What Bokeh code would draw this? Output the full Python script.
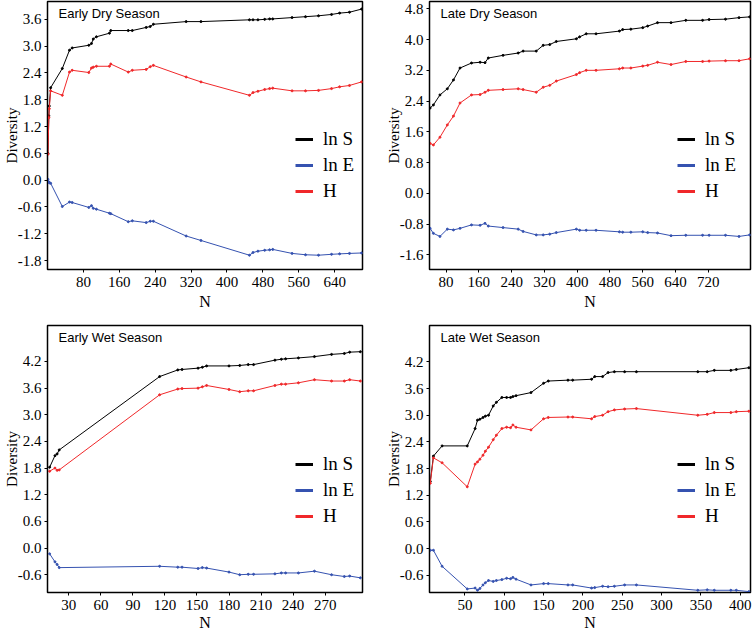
from bokeh.plotting import figure
from bokeh.layouts import column, row
from bokeh.models import (Range1d, FixedTicker, NumeralTickFormatter, Label,
                          Legend, LegendItem)
from bokeh.embed import file_html
from bokeh.resources import INLINE

# ---------------- data ----------------
# Early Dry Season
EDS_N = [1, 3, 4, 7, 33, 49, 55, 92, 98, 102, 109, 138, 141, 180, 189, 220, 229, 236,
         309, 342, 450, 458, 469, 484, 495, 502, 545, 575, 604, 633, 651, 673, 700]
EDS_LNS = [0.60, 1.44, 1.66, 2.07, 2.50, 2.91, 2.96, 3.02, 3.06, 3.16, 3.21, 3.29, 3.35,
           3.35, 3.35, 3.42, 3.44, 3.49, 3.55, 3.55, 3.59, 3.59, 3.59, 3.60, 3.61, 3.61,
           3.64, 3.66, 3.68, 3.71, 3.74, 3.76, 3.83]
EDS_H = [0.58, 1.40, 1.60, 2.00, 1.90, 2.42, 2.46, 2.41, 2.51, 2.53, 2.55, 2.55, 2.60,
         2.42, 2.46, 2.48, 2.54, 2.57, 2.31, 2.20, 1.90, 1.96, 1.99, 2.03, 2.05, 2.06,
         2.00, 2.00, 2.01, 2.05, 2.09, 2.12, 2.20]
EDS_LNE = [0.02, -0.04, -0.06, -0.07, -0.59, -0.49, -0.50, -0.61, -0.57, -0.63, -0.65,
           -0.74, -0.75, -0.93, -0.91, -0.95, -0.92, -0.92, -1.25, -1.35, -1.68, -1.62,
           -1.59, -1.57, -1.56, -1.55, -1.64, -1.67, -1.68, -1.66, -1.65, -1.64, -1.63]

# Late Dry Season
LDS_N = [41, 49, 65, 83, 98, 114, 142, 163, 175, 183, 219, 256, 268, 300, 317, 333, 349,
         398, 406, 422, 446, 503, 511, 531, 560, 572, 596, 629, 665, 706, 722, 762, 795, 821]
LDS_LNS = [2.22, 2.30, 2.56, 2.72, 2.95, 3.26, 3.39, 3.41, 3.40, 3.52, 3.59, 3.65, 3.70,
           3.70, 3.85, 3.87, 3.95, 4.02, 4.07, 4.15, 4.15, 4.22, 4.26, 4.27, 4.31, 4.35,
           4.44, 4.44, 4.50, 4.50, 4.52, 4.53, 4.57, 4.59]
LDS_H = [1.30, 1.26, 1.46, 1.78, 2.01, 2.35, 2.56, 2.57, 2.63, 2.68, 2.70, 2.72, 2.70,
         2.63, 2.76, 2.81, 2.92, 3.09, 3.14, 3.20, 3.20, 3.24, 3.26, 3.26, 3.31, 3.33,
         3.41, 3.35, 3.43, 3.43, 3.44, 3.45, 3.45, 3.50]
LDS_LNE = [-0.91, -1.04, -1.12, -0.93, -0.95, -0.91, -0.82, -0.83, -0.78, -0.85, -0.89,
           -0.93, -0.99, -1.08, -1.08, -1.06, -1.02, -0.93, -0.96, -0.96, -0.96, -1.00,
           -1.01, -1.01, -1.00, -1.02, -1.03, -1.10, -1.09, -1.09, -1.09, -1.09, -1.12, -1.08]

# Early Wet Season
EWS_N = [12, 17, 19, 21, 115, 132, 136, 151, 155, 159, 180, 190, 198, 203, 223, 229, 233,
         245, 260, 276, 288, 293, 303]
EWS_LNS = [1.82, 2.08, 2.12, 2.21, 3.86, 4.01, 4.02, 4.05, 4.07, 4.10, 4.10, 4.11, 4.13,
           4.13, 4.23, 4.25, 4.26, 4.28, 4.31, 4.36, 4.38, 4.41, 4.42]
EWS_H = [1.73, 1.80, 1.75, 1.76, 3.45, 3.58, 3.59, 3.60, 3.63, 3.66, 3.57, 3.52, 3.54,
         3.54, 3.66, 3.69, 3.69, 3.72, 3.79, 3.76, 3.76, 3.79, 3.76]
EWS_LNE = [-0.13, -0.31, -0.37, -0.44, -0.41, -0.43, -0.43, -0.46, -0.44, -0.45, -0.54,
           -0.60, -0.59, -0.59, -0.58, -0.56, -0.56, -0.56, -0.52, -0.60, -0.64, -0.63, -0.67]

# Late Wet Season
LWS_N = [6, 10, 21, 53, 63, 66, 69, 73, 76, 80, 86, 90, 97, 103, 108, 111, 115, 134, 150,
         156, 181, 187, 211, 215, 225, 232, 240, 253, 268, 346, 358, 367, 388, 395, 411]
LWS_LNS = [1.51, 2.08, 2.31, 2.31, 2.70, 2.89, 2.91, 2.95, 2.98, 3.00, 3.21, 3.29, 3.40,
           3.40, 3.40, 3.42, 3.44, 3.51, 3.72, 3.77, 3.79, 3.79, 3.81, 3.87, 3.87, 3.96,
           3.98, 3.98, 3.98, 3.98, 3.98, 4.01, 4.01, 4.03, 4.07]
LWS_H = [1.47, 2.04, 1.93, 1.39, 1.90, 1.95, 2.01, 2.10, 2.19, 2.28, 2.45, 2.55, 2.70,
         2.73, 2.72, 2.78, 2.73, 2.67, 2.92, 2.95, 2.96, 2.96, 2.92, 2.97, 3.00, 3.08,
         3.12, 3.14, 3.15, 3.00, 3.02, 3.06, 3.06, 3.08, 3.09]
LWS_LNE = [-0.04, -0.04, -0.40, -0.91, -0.89, -0.94, -0.90, -0.82, -0.77, -0.72, -0.74,
           -0.72, -0.70, -0.67, -0.68, -0.65, -0.69, -0.82, -0.79, -0.79, -0.82, -0.82,
           -0.89, -0.88, -0.85, -0.86, -0.85, -0.82, -0.82, -0.94, -0.93, -0.94, -0.94,
           -0.94, -0.97]

# tick labels
EDS_XTICKS = [80, 160, 240, 320, 400, 480, 560, 640]
LDS_XTICKS = [80, 160, 240, 320, 400, 480, 560, 640, 720]
EWS_XTICKS = [30, 60, 90, 120, 150, 180, 210, 240, 270]
LWS_XTICKS = [50, 100, 150, 200, 250, 300, 350, 400]
EDS_YTICKS = [-1.8, -1.2, -0.6, 0.0, 0.6, 1.2, 1.8, 2.4, 3.0, 3.6]
LDS_YTICKS = [-1.6, -0.8, 0.0, 0.8, 1.6, 2.4, 3.2, 4.0, 4.8]
WET_YTICKS = [-0.6, 0.0, 0.6, 1.2, 1.8, 2.4, 3.0, 3.6, 4.2]
SERIES_NAMES = ["ln S", "ln E", "H"]

SERIF = "Liberation Serif"
SANS = "Liberation Sans"
COLORS = ["#000000", "#3552b0", "#f0282a"]
NAN = float("nan")


def panel(title, n, lns, lne, h, xr, yr, xt, yt, width, height, borders, leg_y, n_standoff):
    p = figure(width=width, height=height, output_backend="svg", toolbar_location=None,
               x_range=Range1d(*xr), y_range=Range1d(*yr),
               min_border_left=borders[0], min_border_right=borders[1],
               min_border_top=borders[2], min_border_bottom=borders[3])
    p.grid.visible = False
    p.outline_line_color = "black"
    p.outline_line_width = 1.5
    p.background_fill_color = "white"
    p.border_fill_color = "white"
    for ax in (p.xaxis[0], p.yaxis[0]):
        ax.major_tick_out = 3
        ax.major_tick_in = 0
        ax.minor_tick_line_color = None
        ax.axis_line_color = "black"
        ax.major_tick_line_color = "black"
        ax.major_label_text_font = SERIF
        ax.major_label_text_font_size = "15px"
        ax.major_label_text_color = "black"
        ax.major_label_text_line_height = 1.0
        ax.major_label_standoff = 3
        ax.axis_label_text_font = SERIF
        ax.axis_label_text_font_style = "normal"
        ax.axis_label_text_color = "black"
        ax.axis_label_text_line_height = 1.0
    p.xaxis.major_label_standoff = 4
    p.xaxis.ticker = FixedTicker(ticks=xt)
    p.yaxis.ticker = FixedTicker(ticks=yt)
    p.xaxis.formatter = NumeralTickFormatter(format="0")
    p.yaxis.formatter = NumeralTickFormatter(format="0.0")
    p.xaxis.axis_label = "N"
    p.xaxis.axis_label_text_font_size = "16px"
    p.xaxis.axis_label_standoff = n_standoff
    p.yaxis.axis_label = "Diversity"
    p.yaxis.axis_label_text_font_size = "15px"
    p.yaxis.axis_label_standoff = -5

    for ys, c in zip([lns, lne, h], COLORS):
        p.line(n, ys, line_color=c, line_width=1)
        p.scatter(n, ys, marker="circle", size=2, line_color=c, fill_color=c)

    dummies = [p.line(x=[NAN], y=[NAN], line_color=c, line_width=3) for c in COLORS]
    legend = Legend(items=[LegendItem(label=nm, renderers=[r]) for nm, r in zip(SERIES_NAMES, dummies)],
                    location=(248, leg_y), orientation="vertical",
                    label_text_font=SERIF, label_text_font_size="19px",
                    label_text_color="black",
                    glyph_width=18, glyph_height=20, label_height=20, spacing=4,
                    padding=0, margin=0, border_line_color=None,
                    background_fill_alpha=0, label_standoff=10)
    p.add_layout(legend)

    p.add_layout(Label(x=xr[0], y=yr[1], x_offset=11, y_offset=-4, text=title,
                       text_font=SANS, text_font_size="13px", text_baseline="top",
                       text_align="left", text_color="black"))
    return p


p1 = panel("Early Dry Season", EDS_N, EDS_LNS, EDS_LNE, EDS_H, (0, 702), (-2.0, 4.0),
           EDS_XTICKS, EDS_YTICKS, 370, 318, (41, 8, 1, 49), 67, 3)
p2 = panel("Late Dry Season", LDS_N, LDS_LNS, LDS_LNE, LDS_H, (39.5, 823), (-1.98, 4.99),
           LDS_XTICKS, LDS_YTICKS, 386, 318, (59, 6, 1, 49), 67, 3)
p3 = panel("Early Wet Season", EWS_N, EWS_LNS, EWS_LNE, EWS_H, (10, 305), (-1.0, 5.01),
           EWS_XTICKS, WET_YTICKS, 370, 316, (41, 8, 7, 42), 65, 1)
p4 = panel("Late Wet Season", LWS_N, LWS_LNS, LWS_LNE, LWS_H, (5, 413), (-0.99, 5.02),
           LWS_XTICKS, WET_YTICKS, 386, 316, (59, 6, 7, 42), 65, 1)

layout = column(row(p1, p2), row(p3, p4))
open("out.html", "w").write(file_html(layout, INLINE))
